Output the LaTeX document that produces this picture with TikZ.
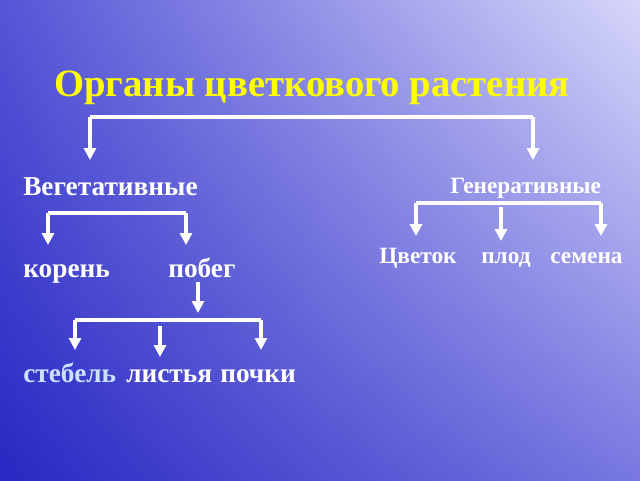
\documentclass[tikz,border=0pt]{standalone}
\usepackage{fontspec}
\setmainfont{Liberation Serif}
\usetikzlibrary{arrows.meta,shadings}
\definecolor{bgll}{RGB}{40,40,195}
\definecolor{bgur}{RGB}{215,215,250}
\definecolor{bgul}{RGB}{85,85,215}
\definecolor{bglr}{RGB}{120,120,225}
\definecolor{ttl}{RGB}{255,255,0}
\definecolor{lblue}{RGB}{205,225,255}
\tikzset{
  lbl/.style={text=white,font=\bfseries\fontsize{20.5}{24}\selectfont,inner sep=0pt,anchor=base west},
  gen/.style={text=white,font=\bfseries\fontsize{17.5}{21}\selectfont,inner sep=0pt,anchor=base west},
  ln/.style={draw=white,line width=2.6pt},
  ar/.style={ln,-{Triangle[width=9pt,length=9pt]}}
}
\begin{document}
\begin{tikzpicture}[x=0.75pt,y=-0.75pt]
\useasboundingbox (0,0) rectangle (640,480);
\shade[lower left=bgll,upper right=bgur,upper left=bgul,lower right=bglr] (0,0) rectangle (640,480);
\node[text=ttl,font=\bfseries\fontsize{29}{34}\selectfont] (title) at (312,88) {Органы цветкового растения};
\node[lbl] (veg) at (23,195) {Вегетативные};
\node[gen] (gen) at (450,193) {Генеративные};
\node[lbl] (kor) at (23,277) {корень};
\node[lbl] (pob) at (168,277) {побег};
\node[lbl,text=lblue] (ste) at (23,382) {стебель};
\node[lbl] (lis) at (126,382) {листья};
\node[lbl] (poc) at (220,382) {почки};
\node[gen] (cve) at (379,263) {Цветок};
\node[gen] (plo) at (481,263) {плод};
\node[gen] (sem) at (550,263) {семена};
\coordinate (t1) at (90,117); \coordinate (t2) at (533,117);
\coordinate (v1) at (48,213); \coordinate (v2) at (186,213);
\coordinate (p0) at (198,282);
\coordinate (s1) at (75,320); \coordinate (s2) at (261,320); \coordinate (s3) at (160,326);
\coordinate (g1) at (416,203); \coordinate (g2) at (601,203); \coordinate (g3) at (501,207);
\draw[ln] (t1) -- (t2);
\draw[ar] (t1) -- (90,160);
\draw[ar] (t2) -- (533,160);
\draw[ln] (v1) -- (v2);
\draw[ar] (v1) -- (48,245);
\draw[ar] (v2) -- (186,245);
\draw[ar] (p0) -- (198,313);
\draw[ln] (s1) -- (s2);
\draw[ar] (s1) -- (75,350);
\draw[ar] (s2) -- (261,350);
\draw[ar] (s3) -- (160,357);
\draw[ln] (g1) -- (g2);
\draw[ar] (g1) -- (416,236);
\draw[ar] (g2) -- (601,236);
\draw[ar] (g3) -- (501,241);
\end{tikzpicture}
\end{document}
